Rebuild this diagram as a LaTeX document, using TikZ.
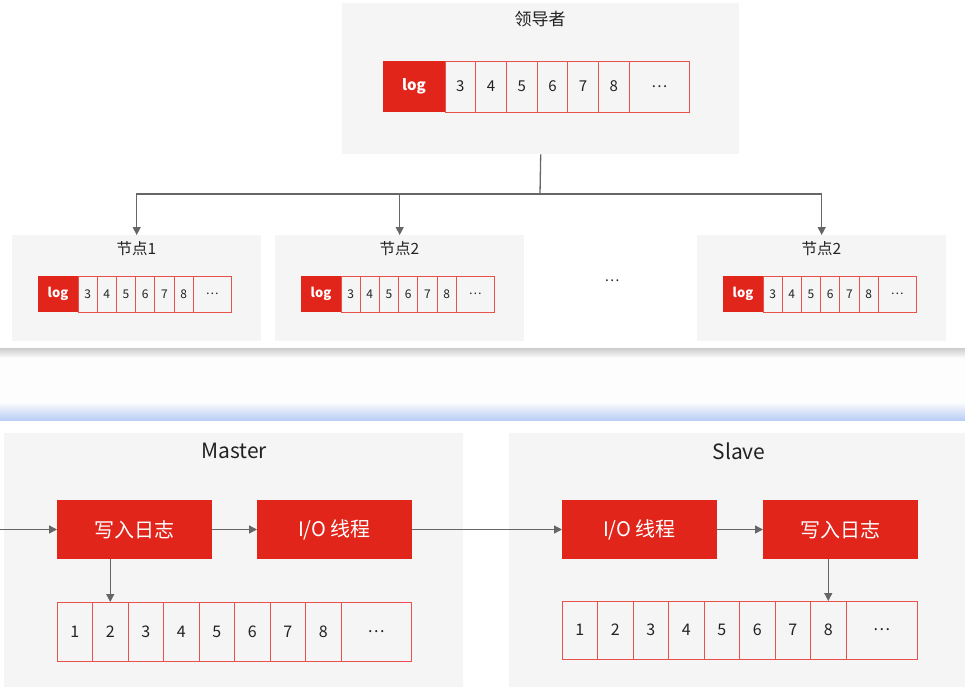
\documentclass[tikz,border=0pt]{standalone}
\usepackage{fontspec}
\setmainfont{Noto Sans CJK SC}
\usetikzlibrary{arrows.meta,positioning}

\definecolor{logred}{HTML}{E1251B}
\definecolor{cellred}{HTML}{E8514C}
\definecolor{panelgray}{HTML}{F5F5F5}
\definecolor{arrowgray}{HTML}{666666}
\definecolor{inkblack}{HTML}{222222}
\definecolor{bandwhite}{HTML}{FDFDFD}
\definecolor{bandblue}{HTML}{BACDF6}

\begin{document}
\begin{tikzpicture}[
  x=1pt, y=-1pt,
  >=Stealth,
  panel/.style={fill=panelgray, inner sep=0pt},
  title/.style={text=inkblack, inner sep=0pt},
  cell/.style={draw=cellred, fill=panelgray, line width=0.7pt, inner sep=0pt, outer sep=0pt,
    anchor=west, text=inkblack},
  logcell/.style={fill=logred, text=white, inner sep=0pt, outer sep=0pt, anchor=west},
  stage/.style={fill=logred, text=white, inner sep=0pt, outer sep=0pt, minimum width=155,
    minimum height=59, font=\fontsize{20}{24}\selectfont},
  flow/.style={draw=arrowgray, line width=1.3pt, -{Triangle[length=8pt,width=8pt]}},
  link/.style={draw=arrowgray, line width=1.3pt}
]
\path[use as bounding box] (0,0) rectangle (965,687);

% leader
\node[panel, minimum width=397, minimum height=151, anchor=north west] (leader) at (342,3) {};
\node[title, font=\fontsize{17}{20}\selectfont] (leader-t) at (540,19) {领导者};
\node[logcell, minimum width=62, minimum height=51, font=\bfseries\fontsize{15}{18}\selectfont]
  (ld0) at (383,86.5) {log};
\foreach \n [count=\i, remember=\i as \j (initially 0)] in {3,...,8}
  \node[cell, minimum width=30.7, minimum height=51, font=\fontsize{15}{18}\selectfont]
    (ld\i) at (ld\j.east) {\n};
\node[cell, minimum width=60, minimum height=51, font=\fontsize{15}{18}\selectfont]
  (ld7) at (ld6.east) {…};

% followers
\foreach \k/\x/\lab in {fa/12/节点1, fb/275/节点2, fc/697/节点2} {
  \node[panel, minimum width=249, minimum height=106, anchor=north west] (\k) at (\x,235) {};
  \node[title, font=\fontsize{15.5}{18}\selectfont] (\k-t) at (\x+124.5,249) {\lab};
  \node[logcell, minimum width=40, minimum height=36, font=\bfseries\fontsize{13}{16}\selectfont]
    (\k0) at (\x+26,294) {log};
  \foreach \n [count=\i, remember=\i as \j (initially 0)] in {3,...,8}
    \node[cell, minimum width=19.2, minimum height=36, font=\fontsize{12}{14}\selectfont]
      (\k\i) at (\k\j.east) {\n};
  \node[cell, minimum width=38, minimum height=36, font=\fontsize{12}{14}\selectfont]
    (\k7) at (\k6.east) {…};
}
\node[font=\fontsize{14}{17}\selectfont, text=inkblack] (gap) at (612,281) {…};

\coordinate (bus) at (540,194);
\draw[link] (leader.south) -- (bus);
\foreach \k in {fa,fb,fc}
  \draw[flow] (bus) -| (\k.north);

% seam between the two parts
\fill[bandwhite] (0,348) rectangle (965,420);
\shade[top color=black!20, bottom color=bandwhite] (0,348) rectangle (965,358);
\shade[top color=bandwhite, bottom color=bandblue] (0,402) rectangle (965,420);

% master
\node[panel, minimum width=459, minimum height=254, anchor=north west] (master) at (4,433) {};
\node[title, font=\fontsize{21}{25}\selectfont] (master-t) at (234,451) {Master};
\node[stage] (mw) at (134.5,529.5) {写入日志};
\node[stage, right=45pt of mw] (mio) {I/O 线程};
\coordinate (m0) at (57,631.5);
\foreach \n [remember=\n as \p (initially 0)] in {1,...,8}
  \node[cell, minimum width=35.5, minimum height=59, font=\fontsize{16}{19}\selectfont]
    (m\n) at (m\p.east) {\n};
\node[cell, minimum width=70, minimum height=59, font=\fontsize{16}{19}\selectfont]
  (m9) at (m8.east) {…};

% slave
\node[panel, minimum width=456, minimum height=254, anchor=north west] (slave) at (509,433) {};
\node[title, font=\fontsize{21}{25}\selectfont] (slave-t) at (739,451) {Slave};
\node[stage] (sio) at (639.5,529.5) {I/O 线程};
\node[stage, right=46pt of sio] (sw) {写入日志};
\coordinate (s0) at (562,630);
\foreach \n [remember=\n as \p (initially 0)] in {1,...,8}
  \node[cell, minimum width=35.5, minimum height=58, font=\fontsize{16}{19}\selectfont]
    (s\n) at (s\p.east) {\n};
\node[cell, minimum width=71, minimum height=58, font=\fontsize{16}{19}\selectfont]
  (s9) at (s8.east) {…};

% flow of the log
\coordinate (src) at (0,529.5);
\draw[flow] (src) -- (mw);
\draw[flow] (mw) -- (mio);
\draw[flow] (mio) -- (sio);
\draw[flow] (sio) -- (sw);
\draw[flow] (mw.south -| m2) -- (m2.north);
\draw[flow] (sw.south -| s8) -- (s8.north);
\end{tikzpicture}
\end{document}
